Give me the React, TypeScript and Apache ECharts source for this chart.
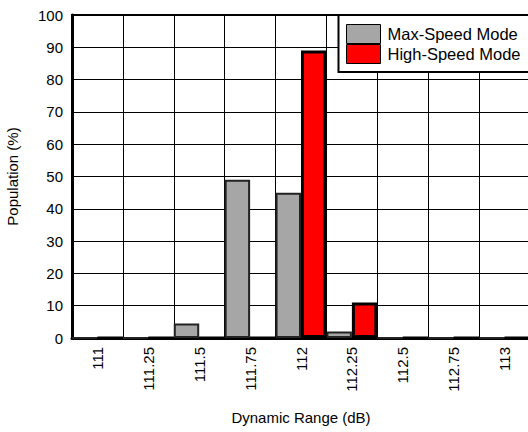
import React, { useEffect, useRef } from "react";
import * as echarts from "echarts";

const categories = ["111", "111.25", "111.5", "111.75", "112", "112.25", "112.5", "112.75", "113"];
const maxSpeed = [0, 0, 4.5, 49, 45, 2, 0, 0, 0];
const highSpeed = [0, 0, 0, 0, 89, 11, 0, 0, 0];
const yTicks = { min: 0, max: 100, interval: 10 };

const FONT = "'Liberation Sans', Arial, sans-serif";

export default function App() {
  const ref = useRef<HTMLDivElement>(null);
  useEffect(() => {
    document.body.style.margin = "0";
    const chart = echarts.init(ref.current!, undefined, { renderer: "svg" });
    chart.setOption({
      animation: false,
      backgroundColor: "#fff",
      textStyle: { fontFamily: FONT },
      grid: {
        left: 72,
        top: 15,
        width: 458,
        height: 323,
        outerBoundsMode: "none",
        containLabel: false,
        show: true,
        borderColor: "#000",
        borderWidth: 2,
        backgroundColor: "transparent",
      },
      graphic: [
        {
          type: "rect",
          z: 50,
          shape: { x: 338.5, y: 15, width: 200, height: 57 },
          style: { fill: "#fff", stroke: "#000", lineWidth: 2 },
        },
      ],
      legend: {
        orient: "vertical",
        left: 338,
        top: 15,
        z: 100,
        padding: [9, 10, 9, 8],
        itemGap: 0,
        itemWidth: 34,
        itemHeight: 19,
        backgroundColor: "transparent",
        borderWidth: 0,
        icon: "rect",
        itemStyle: { borderColor: "#000", borderWidth: 1 },
        textStyle: { fontSize: 16.5, color: "#000", fontFamily: FONT, padding: [0, 0, 0, 2] },
        data: ["Max-Speed Mode", "High-Speed Mode"],
      },
      xAxis: {
        type: "category",
        data: categories,
        boundaryGap: true,
        name: "Dynamic Range (dB)",
        nameLocation: "middle",
        nameGap: 72,
        nameTextStyle: { fontSize: 15, color: "#000", fontFamily: FONT },
        axisLine: { show: true, lineStyle: { color: "#000", width: 3 } },
        axisTick: { show: false },
        axisLabel: { rotate: 90, fontSize: 15, color: "#000", margin: 9, interval: 0, fontFamily: FONT },
        splitLine: { show: true, interval: 0, lineStyle: { color: "#000", width: 1 } },
      },
      yAxis: {
        type: "value",
        min: yTicks.min,
        max: yTicks.max,
        interval: yTicks.interval,
        name: "Population (%)",
        nameLocation: "middle",
        nameGap: 52,
        nameTextStyle: { fontSize: 15, color: "#000", fontFamily: FONT },
        axisLine: { show: true, lineStyle: { color: "#000", width: 3 } },
        axisTick: { show: false },
        axisLabel: { fontSize: 15, color: "#000", margin: 9, fontFamily: FONT },
        splitLine: { show: true, lineStyle: { color: "#000", width: 1 } },
      },
      series: [
        {
          name: "Max-Speed Mode",
          type: "bar",
          data: maxSpeed,
          barGap: "0%",
          barCategoryGap: "0%",
          itemStyle: { color: "#a6a6a6", borderColor: "#222", borderWidth: 2 },
        },
        {
          name: "High-Speed Mode",
          type: "bar",
          data: highSpeed,
          barGap: "0%",
          barCategoryGap: "0%",
          itemStyle: { color: "#ff0000", borderColor: "#000", borderWidth: 3 },
        },
      ],
    });
    return () => chart.dispose();
  }, []);
  return <div ref={ref} style={{ width: 528, height: 432 }} />;
}
